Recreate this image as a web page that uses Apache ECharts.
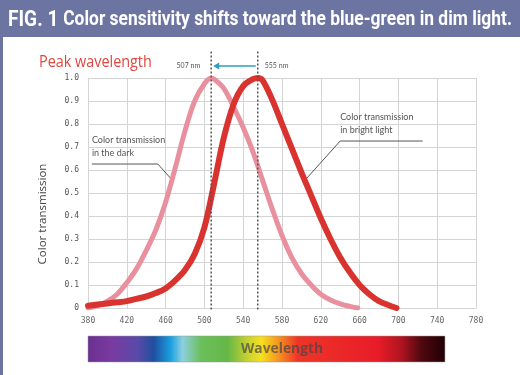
<!DOCTYPE html>
<html><head><meta charset="utf-8">
<script src="https://cdn.jsdelivr.net/npm/echarts@6/dist/echarts.min.js"></script>
<style>html,body{margin:0;padding:0;background:#fff}#c{width:520px;height:375px}</style>
</head><body><div id="c"></div>
<script>
// ---- data ----
const titleFig = 'FIG. 1';
const titleText = 'Color sensitivity shifts toward the blue-green in dim light.';
const darkNm  = [380,390,400,410,420,430,440,450,460,470,480,490,500,507,510,520,530,540,550,560,570,580,590,600,610,620,630,640,650,658];
const darkVal = [0.0,0.01,0.03,0.06,0.11,0.17,0.25,0.34,0.46,0.61,0.77,0.90,0.975,1.0,0.995,0.955,0.875,0.785,0.68,0.555,0.43,0.315,0.22,0.15,0.10,0.06,0.035,0.018,0.007,0.0];
const brightNm  = [380,390,400,410,420,430,440,450,460,470,480,490,500,510,520,530,540,550,555,560,570,580,590,600,610,620,630,640,650,660,670,680,690,698];
const brightVal = [0.01,0.015,0.02,0.025,0.03,0.04,0.05,0.065,0.085,0.12,0.165,0.235,0.35,0.54,0.74,0.885,0.965,0.995,1.0,0.99,0.905,0.8,0.695,0.59,0.49,0.39,0.3,0.22,0.155,0.10,0.06,0.03,0.012,0.0];
const peakNm = [507, 555];
const peakLabels = ['507 nm', '555 nm'];
const xTickLabels = ['380','420','460','500','540','580','620','660','700','740','780'];
const darkLabel = 'Color transmission\nin the dark';
const brightLabel = 'Color transmission\nin bright light';
const darkLeader = [[384,0.626],[452,0.626],[466,0.56]];
const brightLeader = [[725,0.726],[640,0.726],[604,0.557]];
const spectrumRange = [380, 748];

const chart = echarts.init(document.getElementById('c'), null, {renderer:'canvas'});
const gridCol = '#d4d4d4';
const option = {
  animation:false,
  backgroundColor:'#ffffff',
  grid:{left:88,right:44,top:78,bottom:67},
  xAxis:[
    {type:'value',min:380,max:780,show:false},
    {type:'value',min:0,max:400,interval:40,position:'bottom',
     axisLine:{show:true,lineStyle:{color:gridCol}},axisTick:{show:false},
     splitLine:{show:true,lineStyle:{color:gridCol,width:1}},
     axisLabel:{formatter:(v)=>xTickLabels[Math.round(v/40)],color:'#666',fontFamily:'DejaVu Sans Mono',fontSize:8,margin:9}}
  ],
  yAxis:{type:'value',min:0,max:1,interval:0.1,
    axisLine:{show:true,lineStyle:{color:gridCol}},axisTick:{show:false},
    splitLine:{show:true,lineStyle:{color:gridCol,width:1}},
    axisLabel:{formatter:(v)=>v===0?'0':v.toFixed(1),color:'#555',fontFamily:'DejaVu Sans Mono',fontSize:8,margin:9}},
  series:[
    {type:'line',xAxisIndex:0,data:darkLeader,symbol:'none',lineStyle:{color:'#555',width:1},silent:true,z:1},
    {type:'line',xAxisIndex:0,data:brightLeader,symbol:'none',lineStyle:{color:'#555',width:1},silent:true,z:1},
    {type:'line',name:'dark',xAxisIndex:0,data:darkNm.map((x,i)=>[x,darkVal[i]]),smooth:0.35,symbol:'none',
     lineStyle:{color:'#e8909e',width:5,cap:'round',join:'round'},z:3},
    {type:'line',name:'bright',xAxisIndex:0,data:brightNm.map((x,i)=>[x,brightVal[i]]),smooth:0.35,symbol:'none',
     lineStyle:{color:'#d8332f',width:6,cap:'round',join:'round'},z:4}
  ]
};
chart.setOption(option);

const P = (x,y)=>chart.convertToPixel({xAxisIndex:0,yAxisIndex:0},[x,y]);
const g = [];
// title bar & left border
g.push({type:'rect',shape:{x:0,y:0,width:520,height:37},style:{fill:'#6c74a2'},z:-10});
g.push({type:'rect',shape:{x:0,y:0,width:3,height:375},style:{fill:'#6c74a2'},z:-10});
// title, horizontally condensed to fit the bar
{
  const fam = 'Roboto, sans-serif';
  const ctx = document.createElement('canvas').getContext('2d');
  ctx.font = 'bold 22px '+fam; const w1 = ctx.measureText(titleFig+' ').width;
  ctx.font = 'bold 20px '+fam; const w2 = ctx.measureText(titleText).width;
  const sx = 504/(w1+w2);
  g.push({type:'text',x:8,y:20,scaleX:sx,style:{text:'{a|'+titleFig+' }{b|'+titleText+'}',x:0,y:0,verticalAlign:'middle',
    rich:{a:{fontSize:22,fontWeight:'bold',fill:'#ffffff',fontFamily:fam},b:{fontSize:20,fontWeight:'bold',fill:'#ffffff',fontFamily:fam}}},z:10});
}
// peak dotted lines
peakNm.forEach((nm)=>{
  const a=P(nm,1.115), b=P(nm,-0.01);
  g.push({type:'line',shape:{x1:a[0],y1:a[1],x2:b[0],y2:b[1]},style:{stroke:'#555',lineWidth:1.5,lineDash:[2,2]},z:10});
});
// arrow from 555 to 507
{
  const a=P(peakNm[1],1.052), b=P(peakNm[0],1.052);
  g.push({type:'line',shape:{x1:a[0]-2,y1:a[1],x2:b[0]+6,y2:b[1]},style:{stroke:'#2f9cc0',lineWidth:1.5},z:10});
  g.push({type:'polygon',shape:{points:[[b[0]+2,b[1]],[b[0]+8,b[1]-3.5],[b[0]+8,b[1]+3.5]]},style:{fill:'#2f9cc0'},z:10});
  g.push({type:'text',style:{text:peakLabels[0],x:b[0]-11,y:b[1],align:'right',verticalAlign:'middle',fontSize:7,fontFamily:'Lato',fill:'#555'},z:10});
  g.push({type:'text',style:{text:peakLabels[1],x:a[0]+7,y:a[1],align:'left',verticalAlign:'middle',fontSize:7,fontFamily:'Lato',fill:'#555'},z:10});
}
// peak wavelength label
g.push({type:'text',x:39,y:62,scaleX:0.9,style:{text:'Peak wavelength',x:0,y:0,verticalAlign:'middle',fontSize:16,fontFamily:'Open Sans',fill:'#e0463f'},z:10});
// y axis name
g.push({type:'text',x:43,y:214,rotation:Math.PI/2,style:{text:'Color transmission',align:'center',verticalAlign:'middle',fontSize:11.5,fontFamily:'Open Sans',fill:'#444'},z:10});
// annotations
{
  const p=P(darkLeader[0][0],0.73);
  g.push({type:'text',style:{text:darkLabel,x:p[0],y:p[1]-7,fontSize:9,lineHeight:13,fontFamily:'Lato',fill:'#555'},z:10});
  const q=P(brightLeader[1][0],0.83);
  g.push({type:'text',style:{text:brightLabel,x:q[0],y:q[1]-7,fontSize:9,lineHeight:13,fontFamily:'Lato',fill:'#555'},z:10});
}
// spectrum bar
{
  const a=P(spectrumRange[0],0), b=P(spectrumRange[1],0);
  const stops=[[0,'#6a2f90'],[0.064,'#7a3aa0'],[0.139,'#5a4aa8'],[0.185,'#1f4f9e'],[0.232,'#1aa0e0'],[0.265,'#8cd0e0'],[0.317,'#6bbf5a'],[0.391,'#64b848'],[0.447,'#c8d030'],[0.485,'#f5e020'],[0.53,'#f59a20'],[0.587,'#ee3528'],[0.811,'#e81c28'],[0.877,'#b01420'],[0.933,'#500810'],[1,'#200004']];
  g.push({type:'rect',shape:{x:a[0],y:336,width:b[0]-a[0],height:26},
    style:{fill:new echarts.graphic.LinearGradient(0,0,1,0,stops.map(s=>({offset:s[0],color:s[1]}))),stroke:'#999',lineWidth:0.5},z:5});
  g.push({type:'text',x:282,y:349,scaleX:0.92,style:{text:'Wavelength',x:0,y:0,align:'center',verticalAlign:'middle',fontSize:15,fontWeight:'bold',fontFamily:'Open Sans',fill:'rgba(70,70,70,0.7)'},z:6});
}
chart.setOption({graphic:g});
</script></body></html>
